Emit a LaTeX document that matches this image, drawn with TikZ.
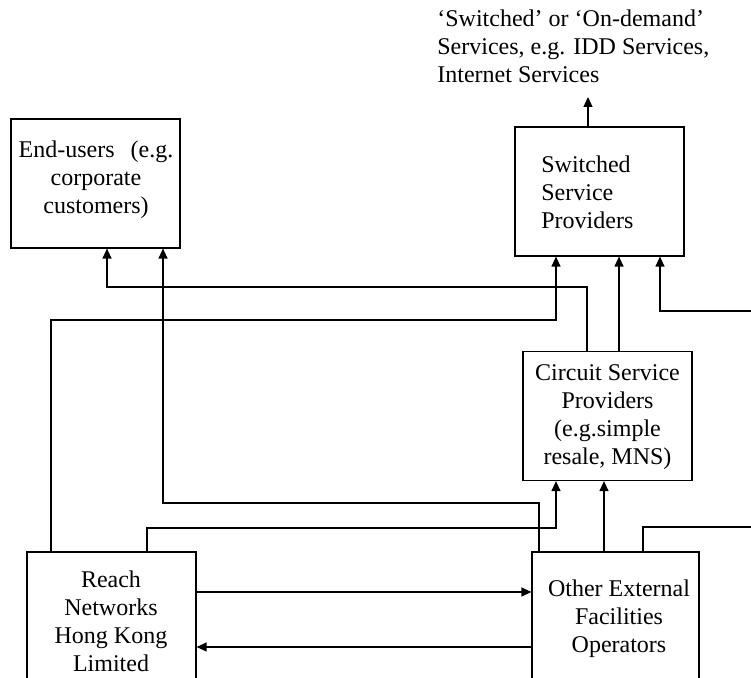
\documentclass[tikz,border=0pt]{standalone}
\usepackage{fontspec}
\setmainfont{Liberation Serif}
\usetikzlibrary{arrows.meta}
\begin{document}
\begin{tikzpicture}[x=0.5pt,y=-0.5pt,
  box/.style={draw, line width=0.6pt, minimum width=84.5pt, minimum height=64.5pt, inner sep=0pt},
  txt/.style={inner sep=0pt, font=\fontsize{12}{14}\selectfont, align=center},
  conn/.style={line width=0.6pt},
  arr/.style={conn, -{Triangle[length=5pt,width=4.5pt]}}]
\useasboundingbox (0,0) rectangle (751,678);
\clip (0,0) rectangle (751,678);
% boxes
\node[box] (eu) at (95.5,183.5) {};
\node[box] (sw) at (599.5,191.5) {};
\node[box] (cs) at (607.5,416) {};
\node[box] (rn) at (111.5,616.5) {};
\node[box, minimum width=83.5pt] (ot) at (615.5,616.5) {};
% texts
\node[txt] (eut) at (96,179.5) {\strut End-users\hspace{5pt} (e.g.\\corporate\\customers)\strut};
\node[txt, align=left, anchor=west] (swt) at (541,195) {\strut Switched\\Service\\Providers\strut};
\node[txt] (cst) at (607.5,416.5) {\strut Circuit Service\\Providers\\(e.g.simple\\resale, MNS)\strut};
\node[txt] (rnt) at (111,624) {\strut Reach\\Networks\\Hong Kong\\Limited\strut};
\node[txt] (ott) at (619,619) {\strut Other External\\Facilities\\Operators\strut};
\node[txt, align=left, anchor=west] (svc) at (437,49.4) {\strut ‘Switched’ or ‘On-demand’\\Services, e.g. IDD Services,\\Internet Services\strut};
% connectors
\coordinate (c1a) at (51,320); \coordinate (c1b) at (556,320);
\draw[arr] (rn.north -| c1a) -- (c1a) -- (c1b) -- (sw.south -| c1b);
\coordinate (c2a) at (147,528); \coordinate (c2b) at (556,528);
\draw[arr] (rn.north -| c2a) -- (c2a) -- (c2b) -- (cs.south -| c2b);
\coordinate (c3a) at (539,503); \coordinate (c3b) at (163,503);
\draw[arr] (ot.north -| c3a) -- (c3a) -- (c3b) -- (eu.south -| c3b);
\coordinate (c4) at (604,0);
\draw[arr] (ot.north -| c4) -- (cs.south -| c4);
\coordinate (c5a) at (643,527); \coordinate (c5b) at (760,527);
\draw[conn] (ot.north -| c5a) -- (c5a) -- (c5b);
\coordinate (c6a) at (587,287); \coordinate (c6b) at (107,287);
\draw[arr] (cs.north -| c6a) -- (c6a) -- (c6b) -- (eu.south -| c6b);
\coordinate (c7) at (619,0);
\draw[arr] (cs.north -| c7) -- (sw.south -| c7);
\coordinate (c8a) at (760,311); \coordinate (c8b) at (660,311);
\draw[arr] (c8a) -- (c8b) -- (sw.south -| c8b);
\coordinate (c9) at (588,97);
\draw[arr] (sw.north -| c9) -- (c9);
\coordinate (c10) at (0,592); \coordinate (c11) at (0,647);
\draw[arr] (rn.east |- c10) -- (ot.west |- c10);
\draw[arr] (ot.west |- c11) -- (rn.east |- c11);
\end{tikzpicture}
\end{document}
